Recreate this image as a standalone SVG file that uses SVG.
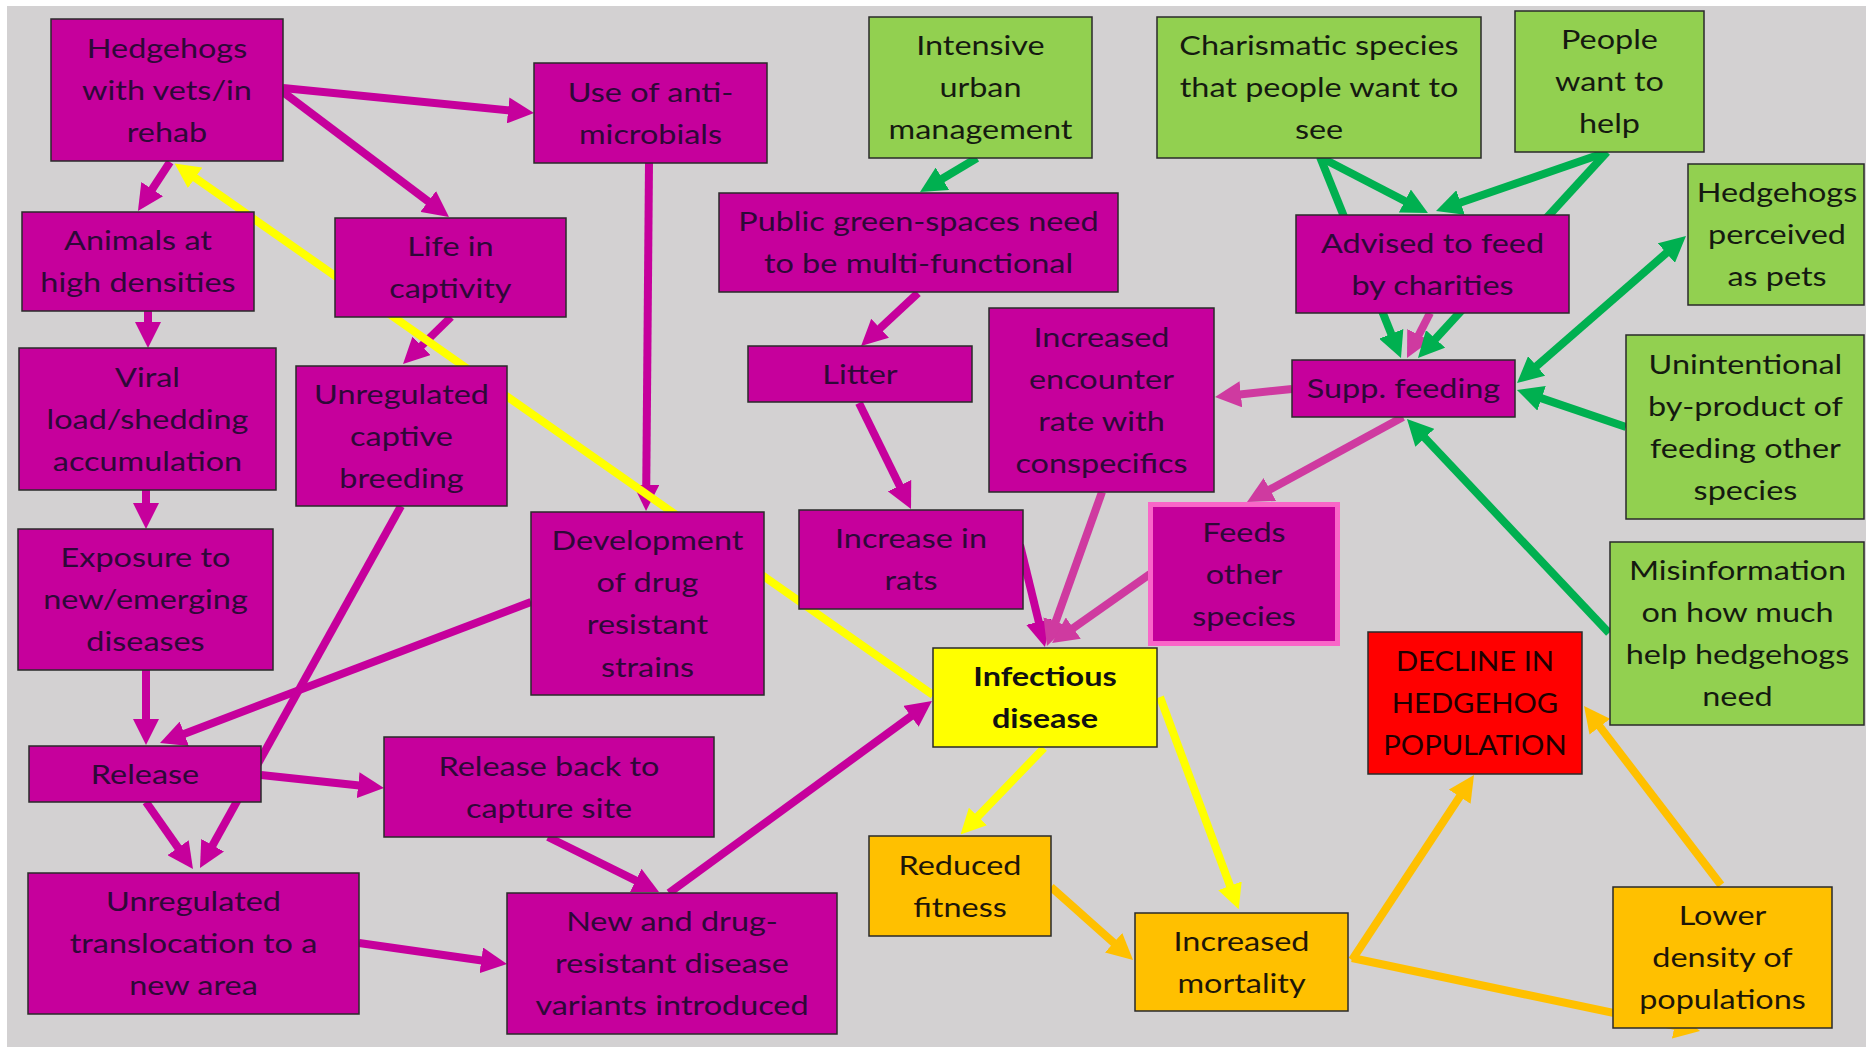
<svg xmlns="http://www.w3.org/2000/svg" width="1866" height="1049" viewBox="0 0 1866 1049">
  <style>
    .t { font-family: Lato, "Liberation Sans", sans-serif; font-size: 27px; text-anchor: middle; transform-box: fill-box; transform-origin: center; transform: scaleX(1.2); }
    .caps { transform: scaleX(1.08); }
    .tb { font-weight: bold; }
    .on-m { fill: #2e0838; }
    .on-g { fill: #151a10; }
    .on-y { fill: #111111; }
    .on-o { fill: #1e1608; }
    .on-r { fill: #1e0000; }
    .box { stroke: #2a2a2a; stroke-width: 1.5; }
    .m { fill: #c6009c; }
    .g { fill: #92d050; }
    .y { fill: #ffff00; }
    .o { fill: #ffc000; }
    .r { fill: #ff0000; }
    .c { fill: none; stroke-width: 8; stroke-linecap: butt; }
    .cm { stroke: #c6009c; marker-end: url(#am); }
    .cp { stroke: #cf3aa0; marker-end: url(#ap); }
    .cg { stroke: #00b050; marker-end: url(#ag); }
    .cy { stroke: #ffff00; marker-end: url(#ay); }
    .co { stroke: #ffc000; marker-end: url(#ao); }
  </style>
  <defs>
    <marker id="am" viewBox="0 0 26 26" refX="6" refY="13" markerWidth="26" markerHeight="26" markerUnits="userSpaceOnUse" orient="auto-start-reverse"><path d="M0,0 L26,13 L0,26 z" fill="#c6009c"/></marker>
    <marker id="ap" viewBox="0 0 26 26" refX="6" refY="13" markerWidth="26" markerHeight="26" markerUnits="userSpaceOnUse" orient="auto-start-reverse"><path d="M0,0 L26,13 L0,26 z" fill="#cf3aa0"/></marker>
    <marker id="ag" viewBox="0 0 26 26" refX="6" refY="13" markerWidth="26" markerHeight="26" markerUnits="userSpaceOnUse" orient="auto-start-reverse"><path d="M0,0 L26,13 L0,26 z" fill="#00b050"/></marker>
    <marker id="ay" viewBox="0 0 26 26" refX="6" refY="13" markerWidth="25" markerHeight="25" markerUnits="userSpaceOnUse" orient="auto-start-reverse"><path d="M0,0 L26,13 L0,26 z" fill="#ffff00"/></marker>
    <marker id="ao" viewBox="0 0 26 26" refX="6" refY="13" markerWidth="26" markerHeight="26" markerUnits="userSpaceOnUse" orient="auto-start-reverse"><path d="M0,0 L26,13 L0,26 z" fill="#ffc000"/></marker>
  </defs>

  <!-- page -->
  <rect x="0" y="0" width="1866" height="1049" fill="#ffffff"/>
  <rect x="7" y="6" width="1859" height="1041" fill="#d3d1d2"/>

  <!-- connectors, drawn under the boxes -->
  <g id="connectors">
    <!-- magenta -->
    <path class="c cm" d="M283,88 L514.1,111"/>
    <path class="c cm" d="M283,92 L433,205"/>
    <path class="c cm" d="M170,162 L148.9,194.2"/>
    <path class="c cm" d="M148,311 L148,328"/>
    <path class="c cm" d="M451,317 L417.3,350"/>
    <path class="c cm" d="M649,163 L646.2,491"/>
    <path class="c cm" d="M146,490 L146,509"/>
    <path class="c cm" d="M146,670 L146,725"/>
    <path class="c cm" d="M531,602 L178.7,735.9"/>
    <path class="c cm" d="M401,506 L209.7,850.5"/>
    <path class="c cm" d="M146,802 L181.5,852.6"/>
    <path class="c cm" d="M261,775 L364.1,785.9"/>
    <path class="c cm" d="M359,943 L487.2,961.2"/>
    <path class="c cm" d="M548,837 L641.1,883.1"/>
    <path class="c cm" d="M669,893 L915.8,712.8"/>
    <path class="c cm" d="M918,293 L875.7,332.4"/>
    <path class="c cm" d="M859,403 L902.2,491"/>
    <path class="c cm" d="M1020,545 L1040.2,627.6"/>
    <!-- lighter pink -->
    <path class="c cp" d="M1292,389 L1234.9,394.9"/>
    <path class="c cp" d="M1403,417 L1264.6,492.4"/>
    <path class="c cp" d="M1102,492 L1053.7,627.2"/>
    <path class="c cp" d="M1150,574 L1068.4,631.5"/>
    <path class="c cp" d="M1430,313 L1416.1,340.2"/>
    <!-- green -->
    <path class="c cg" d="M977,158 L937.2,181.8"/>
    <path class="c cg" d="M1320,157 L1410.2,203.8"/>
    <path class="c cg" d="M1320,157 L1393.5,339.4"/>
    <path class="c cg" d="M1607,152 L1454.9,204.5"/>
    <path class="c cg" d="M1607,152 L1431.5,343.3"/>
    <path class="c cg" d="M1532.1,369.9 L1670.9,249.1" marker-start="url(#ag)"/>
    <path class="c cg" d="M1626,427 L1535.9,396.4"/>
    <path class="c cg" d="M1609,633 L1420.7,433.5"/>
    <!-- yellow -->
    <path class="c cy" d="M933,695 L190.4,174.5"/>
    <path class="c cy" d="M1044,748 L973.9,820.6"/>
    <path class="c cy" d="M1160,697 L1232,891.2"/>
    <!-- orange -->
    <path class="c co" d="M1051,887 L1118.1,946.7"/>
    <path class="c co" d="M1352,960 L1463,791.7"/>
    <path class="c co" d="M1352,958 L1680.5,1027"/>
    <path class="c co" d="M1721,885 L1596.2,721.9"/>
  </g>

  <!-- nodes -->
  <g id="n-vets">
    <rect class="box m" x="51" y="19" width="232" height="142"/>
    <text class="t on-m"><tspan x="167" y="58">Hedgehogs</tspan><tspan x="167" y="100">with vets/in</tspan><tspan x="167" y="142">rehab</tspan></text>
  </g>
  <g id="n-antimicrobials">
    <rect class="box m" x="534" y="63" width="233" height="100"/>
    <text class="t on-m"><tspan x="650.5" y="102">Use of anti-</tspan><tspan x="650.5" y="144">microbials</tspan></text>
  </g>
  <g id="n-densities">
    <rect class="box m" x="22" y="212" width="232" height="99"/>
    <text class="t on-m"><tspan x="138" y="250.5">Animals at</tspan><tspan x="138" y="292.5">high densities</tspan></text>
  </g>
  <g id="n-captivity">
    <rect class="box m" x="335" y="218" width="231" height="99"/>
    <text class="t on-m"><tspan x="450.5" y="256.5">Life in</tspan><tspan x="450.5" y="298.5">captivity</tspan></text>
  </g>
  <g id="n-viral">
    <rect class="box m" x="19" y="348" width="257" height="142"/>
    <text class="t on-m"><tspan x="147.5" y="387">Viral</tspan><tspan x="147.5" y="429">load/shedding</tspan><tspan x="147.5" y="471">accumulation</tspan></text>
  </g>
  <g id="n-breeding">
    <rect class="box m" x="296" y="366" width="211" height="140"/>
    <text class="t on-m"><tspan x="401.5" y="404">Unregulated</tspan><tspan x="401.5" y="446">captive</tspan><tspan x="401.5" y="488">breeding</tspan></text>
  </g>
  <g id="n-exposure">
    <rect class="box m" x="18" y="529" width="255" height="141"/>
    <text class="t on-m"><tspan x="145.5" y="567.5">Exposure to</tspan><tspan x="145.5" y="609.5">new/emerging</tspan><tspan x="145.5" y="651.5">diseases</tspan></text>
  </g>
  <g id="n-resistance">
    <rect class="box m" x="531" y="512" width="233" height="183"/>
    <text class="t on-m"><tspan x="647.5" y="550.5">Development</tspan><tspan x="647.5" y="592.5">of drug</tspan><tspan x="647.5" y="634.5">resistant</tspan><tspan x="647.5" y="676.5">strains</tspan></text>
  </g>
  <g id="n-release">
    <rect class="box m" x="29" y="746" width="232" height="56"/>
    <text class="t on-m"><tspan x="145" y="784">Release</tspan></text>
  </g>
  <g id="n-release-back">
    <rect class="box m" x="384" y="737" width="330" height="100"/>
    <text class="t on-m"><tspan x="549" y="776">Release back to</tspan><tspan x="549" y="818">capture site</tspan></text>
  </g>
  <g id="n-translocation">
    <rect class="box m" x="28" y="873" width="331" height="141"/>
    <text class="t on-m"><tspan x="193.5" y="911.5">Unregulated</tspan><tspan x="193.5" y="953.5">translocation to a</tspan><tspan x="193.5" y="995.5">new area</tspan></text>
  </g>
  <g id="n-variants">
    <rect class="box m" x="507" y="893" width="330" height="141"/>
    <text class="t on-m"><tspan x="672" y="931.5">New and drug-</tspan><tspan x="672" y="973.5">resistant  disease</tspan><tspan x="672" y="1015.5">variants introduced</tspan></text>
  </g>
  <g id="n-urban">
    <rect class="box g" x="869" y="17" width="223" height="141"/>
    <text class="t on-g"><tspan x="980.5" y="55.5">Intensive</tspan><tspan x="980.5" y="97.5">urban</tspan><tspan x="980.5" y="139.5">management</tspan></text>
  </g>
  <g id="n-greenspace">
    <rect class="box m" x="719" y="193" width="399" height="99"/>
    <text class="t on-m"><tspan x="918.5" y="231.5">Public green-spaces need</tspan><tspan x="918.5" y="273.5">to be multi-functional</tspan></text>
  </g>
  <g id="n-litter">
    <rect class="box m" x="748" y="346" width="224" height="56"/>
    <text class="t on-m"><tspan x="860" y="384">Litter</tspan></text>
  </g>
  <g id="n-rats">
    <rect class="box m" x="799" y="510" width="224" height="99"/>
    <text class="t on-m"><tspan x="911" y="548.5">Increase in</tspan><tspan x="911" y="590.5">rats</tspan></text>
  </g>
  <g id="n-encounter">
    <rect class="box m" x="989" y="308" width="225" height="184"/>
    <text class="t on-m"><tspan x="1101.5" y="347">Increased</tspan><tspan x="1101.5" y="389">encounter</tspan><tspan x="1101.5" y="431">rate with</tspan><tspan x="1101.5" y="473">conspecifics</tspan></text>
  </g>
  <g id="n-infectious">
    <rect class="box y" x="933" y="648" width="224" height="99"/>
    <text class="t tb on-y"><tspan x="1045" y="686.5">Infectious</tspan><tspan x="1045" y="728.5">disease</tspan></text>
  </g>
  <g id="n-other-species">
    <rect x="1150.5" y="504.5" width="187" height="139" fill="#c4009a" stroke="#f966c8" stroke-width="5"/>
    <text class="t on-m"><tspan x="1244" y="542">Feeds</tspan><tspan x="1244" y="584">other</tspan><tspan x="1244" y="626">species</tspan></text>
  </g>
  <g id="n-charismatic">
    <rect class="box g" x="1157" y="17" width="324" height="141"/>
    <text class="t on-g"><tspan x="1319" y="55.5">Charismatic species</tspan><tspan x="1319" y="97.5">that people want to</tspan><tspan x="1319" y="139.5">see</tspan></text>
  </g>
  <g id="n-want-help">
    <rect class="box g" x="1515" y="11" width="189" height="141"/>
    <text class="t on-g"><tspan x="1609.5" y="49.5">People</tspan><tspan x="1609.5" y="91.5">want to</tspan><tspan x="1609.5" y="133.5">help</tspan></text>
  </g>
  <g id="n-pets">
    <rect class="box g" x="1688" y="164" width="176" height="141"/>
    <text class="t on-g"><tspan x="1777" y="202.5">Hedgehogs</tspan><tspan x="1777" y="244.5">perceived</tspan><tspan x="1777" y="286.5">as pets</tspan></text>
  </g>
  <g id="n-advised">
    <rect class="box m" x="1296" y="215" width="273" height="98"/>
    <text class="t on-m"><tspan x="1432.5" y="253">Advised to feed</tspan><tspan x="1432.5" y="295">by charities</tspan></text>
  </g>
  <g id="n-supp">
    <rect class="box m" x="1292" y="360" width="223" height="57"/>
    <text class="t on-m"><tspan x="1403.5" y="398.5">Supp. feeding</tspan></text>
  </g>
  <g id="n-byproduct">
    <rect class="box g" x="1626" y="335" width="238" height="184"/>
    <text class="t on-g"><tspan x="1745.5" y="374">Unintentional</tspan><tspan x="1745.5" y="416">by-product of</tspan><tspan x="1745.5" y="458">feeding other</tspan><tspan x="1745.5" y="500">species</tspan></text>
  </g>
  <g id="n-misinformation">
    <rect class="box g" x="1610" y="542" width="254" height="183"/>
    <text class="t on-g"><tspan x="1737.5" y="580.5">Misinformation</tspan><tspan x="1737.5" y="622.5">on how much</tspan><tspan x="1737.5" y="664.5">help hedgehogs</tspan><tspan x="1737.5" y="706.5">need</tspan></text>
  </g>
  <g id="n-decline">
    <rect class="box r" x="1368" y="632" width="214" height="142"/>
    <text class="t caps on-r"><tspan x="1475" y="671">DECLINE IN</tspan><tspan x="1475" y="713">HEDGEHOG</tspan><tspan x="1475" y="755">POPULATION</tspan></text>
  </g>
  <g id="n-fitness">
    <rect class="box o" x="869" y="836" width="182" height="100"/>
    <text class="t on-o"><tspan x="960" y="875">Reduced</tspan><tspan x="960" y="917">fitness</tspan></text>
  </g>
  <g id="n-mortality">
    <rect class="box o" x="1135" y="913" width="213" height="98"/>
    <text class="t on-o"><tspan x="1241.5" y="951">Increased</tspan><tspan x="1241.5" y="993">mortality</tspan></text>
  </g>
  <g id="n-density">
    <rect class="box o" x="1613" y="887" width="219" height="141"/>
    <text class="t on-o"><tspan x="1722.5" y="925.5">Lower</tspan><tspan x="1722.5" y="967.5">density of</tspan><tspan x="1722.5" y="1009.5">populations</tspan></text>
  </g>
</svg>
